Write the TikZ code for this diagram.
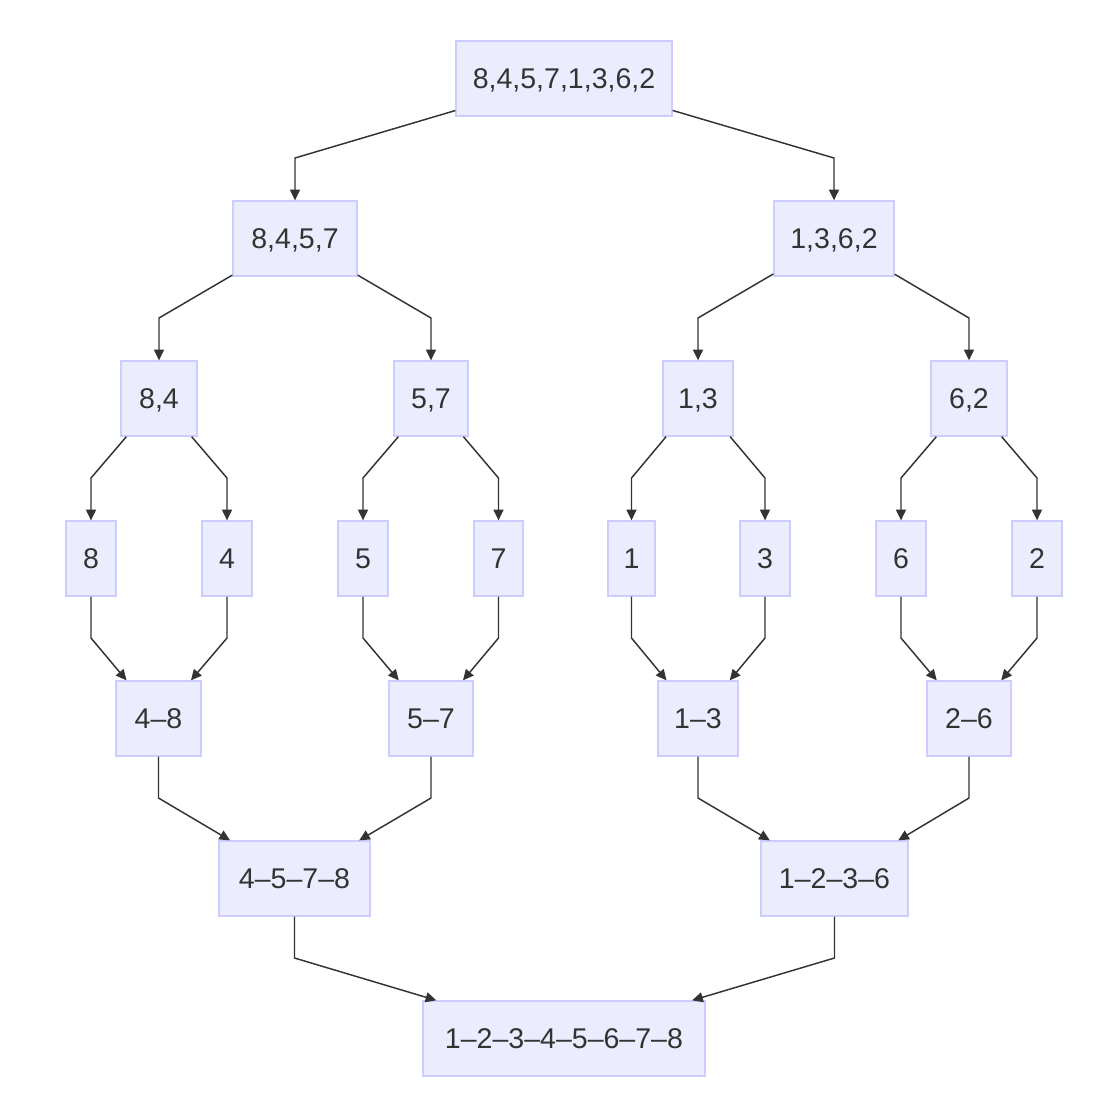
\documentclass[tikz,border=0pt]{standalone}
\usepackage{fontspec}
\setmainfont{Liberation Sans}
\usetikzlibrary{arrows.meta}
\definecolor{boxfill}{HTML}{ECECFF}
\definecolor{boxline}{HTML}{CCCCFF}
\definecolor{ink}{HTML}{333333}
\begin{document}
\begin{tikzpicture}[x=0.75pt,y=-0.75pt,
  box/.style={draw=boxline,fill=boxfill,line width=1pt,minimum height=56.25pt,inner sep=0pt,text=ink,font=\fontsize{21.4}{25}\selectfont,
    text height=15.4pt, text depth=0pt},
  w/.style={minimum width=#1*0.75pt},
  arr/.style={draw=ink,line width=1.1pt,-{Triangle[length=8pt,width=7.5pt]}}]
\fill[white] (0,0) rectangle (1110,1108);
\useasboundingbox (0,0) rectangle (1110,1108);
% levels
\coordinate (y1) at (0,158);
\coordinate (y2) at (0,318);
\coordinate (y3) at (0,478);
\coordinate (y4) at (0,638);
\coordinate (y5) at (0,798);
\coordinate (y6) at (0,958);
% nodes
\node[box,w=216] (r) at (564,78.5) {8,4,5,7,1,3,6,2};
\node[box,w=124] (a) at (295,238.5) {8,4,5,7};
\node[box,w=120] (b) at (834,238.5) {1,3,6,2};
\node[box,w=76] (a1) at (159,398.5) {8,4};
\node[box,w=74] (a2) at (431,398.5) {5,7};
\node[box,w=70] (b1) at (698,398.5) {1,3};
\node[box,w=76] (b2) at (969,398.5) {6,2};
\node[box,w=50] (l8) at (91,558.5) {8};
\node[box,w=50] (l4) at (227,558.5) {4};
\node[box,w=50] (l5) at (363,558.5) {5};
\node[box,w=49] (l7) at (498.5,558.5) {7};
\node[box,w=47] (l1) at (631.5,558.5) {1};
\node[box,w=50] (l3) at (765,558.5) {3};
\node[box,w=50] (l6) at (901,558.5) {6};
\node[box,w=50] (l2) at (1037,558.5) {2};
\node[box,w=85] (m48) at (158.5,718.5) {4–8};
\node[box,w=84] (m57) at (431,718.5) {5–7};
\node[box,w=80] (m13) at (698,718.5) {1–3};
\node[box,w=84] (m26) at (969,718.5) {2–6};
\node[box,w=151] (m4578) at (294.5,878.5) {4–5–7–8};
\node[box,w=147] (m1236) at (834.5,878.5) {1–2–3–6};
\node[box,w=282] (fin) at (564,1038.5) {1–2–3–4–5–6–7–8};
% split edges
\draw[arr] (r) -- (a |- y1) -- (a);
\draw[arr] (r) -- (b |- y1) -- (b);
\draw[arr] (a) -- (a1 |- y2) -- (a1);
\draw[arr] (a) -- (a2 |- y2) -- (a2);
\draw[arr] (b) -- (b1 |- y2) -- (b1);
\draw[arr] (b) -- (b2 |- y2) -- (b2);
\draw[arr] (a1) -- (l8 |- y3) -- (l8);
\draw[arr] (a1) -- (l4 |- y3) -- (l4);
\draw[arr] (a2) -- (l5 |- y3) -- (l5);
\draw[arr] (a2) -- (l7 |- y3) -- (l7);
\draw[arr] (b1) -- (l1 |- y3) -- (l1);
\draw[arr] (b1) -- (l3 |- y3) -- (l3);
\draw[arr] (b2) -- (l6 |- y3) -- (l6);
\draw[arr] (b2) -- (l2 |- y3) -- (l2);
% merge edges
\draw[arr] (l8) -- (l8 |- y4) -- (m48);
\draw[arr] (l4) -- (l4 |- y4) -- (m48);
\draw[arr] (l5) -- (l5 |- y4) -- (m57);
\draw[arr] (l7) -- (l7 |- y4) -- (m57);
\draw[arr] (l1) -- (l1 |- y4) -- (m13);
\draw[arr] (l3) -- (l3 |- y4) -- (m13);
\draw[arr] (l6) -- (l6 |- y4) -- (m26);
\draw[arr] (l2) -- (l2 |- y4) -- (m26);
\draw[arr] (m48) -- (m48 |- y5) -- (m4578);
\draw[arr] (m57) -- (m57 |- y5) -- (m4578);
\draw[arr] (m13) -- (m13 |- y5) -- (m1236);
\draw[arr] (m26) -- (m26 |- y5) -- (m1236);
\draw[arr] (m4578) -- (m4578 |- y6) -- (fin);
\draw[arr] (m1236) -- (m1236 |- y6) -- (fin);
\end{tikzpicture}
\end{document}
